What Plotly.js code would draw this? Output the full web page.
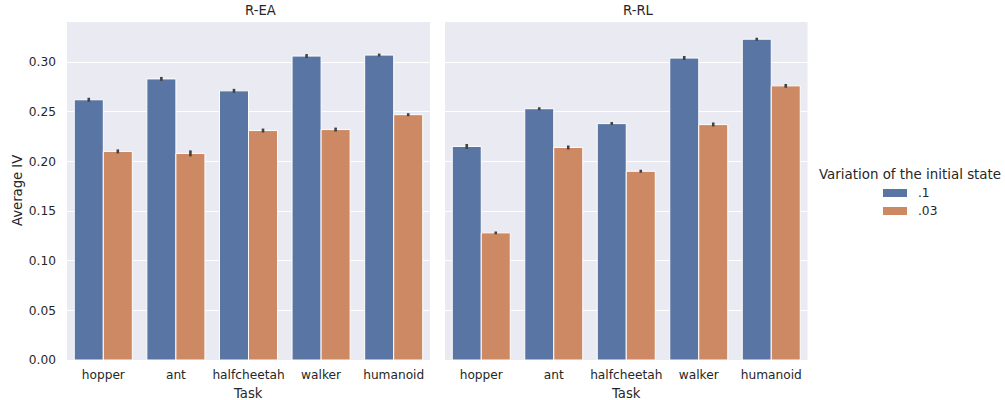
<!DOCTYPE html>
<html>
<head>
<meta charset="utf-8">
<script src="https://cdn.plot.ly/plotly-3.0.1.min.js"></script>
<style>html,body{margin:0;padding:0;background:#fff;} #chart{width:1005px;height:400px;}</style>
</head>
<body>
<div id="chart"></div>
<script>
const tasks = ["hopper", "ant", "halfcheetah", "walker", "humanoid"];
const panels = ["R-EA", "R-RL"];
const variations = [".1", ".03"];
// R-EA
const eaV1 = [0.262, 0.283, 0.271, 0.306, 0.307];
const eaV1Err = [0.002, 0.002, 0.002, 0.002, 0.0015];
const eaV03 = [0.210, 0.208, 0.231, 0.232, 0.247];
const eaV03Err = [0.002, 0.003, 0.002, 0.002, 0.0015];
// R-RL
const rlV1 = [0.215, 0.253, 0.238, 0.304, 0.323];
const rlV1Err = [0.0025, 0.0015, 0.0015, 0.002, 0.0015];
const rlV03 = [0.128, 0.214, 0.190, 0.237, 0.276];
const rlV03Err = [0.0015, 0.002, 0.0015, 0.002, 0.002];

const colors = ["#5975A4", "#CC8963"];
const errColor = "#424242";
const font = "DejaVu Sans, sans-serif";
const textColor = "#262626";
const tickSize = 12.2, labelSize = 13.2, legTitleSize = 13.4;

function bar(x, y, err, ci, xa, ya) {
  return {
    type: "bar", x: x, y: y, xaxis: xa, yaxis: ya,
    name: variations[ci], showlegend: false,
    marker: {color: colors[ci], line: {color: "#ffffff", width: 1}},
    error_y: {type: "data", array: err, visible: true, color: errColor, thickness: 2.6, width: 0},
    hoverinfo: "skip"
  };
}

const data = [
  bar(tasks, eaV1, eaV1Err, 0, "x", "y"),
  bar(tasks, eaV03, eaV03Err, 1, "x", "y"),
  bar(tasks, rlV1, rlV1Err, 0, "x2", "y2"),
  bar(tasks, rlV03, rlV03Err, 1, "x2", "y2")
];

const yRange = [0, 0.3403];
const yTicks = [0, 0.05, 0.10, 0.15, 0.20, 0.25, 0.30];
const W = 1005, H = 400;
const px = v => v / W, py = v => (H - v) / H;

const xBase = {
  type: "category", showgrid: false, zeroline: false, showline: false, ticks: "",
  tickfont: {family: font, size: tickSize, color: textColor}, ticklabelstandoff: 6,
  range: [-0.5, 4.5], fixedrange: true
};
const yBase = {
  range: yRange, tickvals: yTicks, tickformat: ".2f", showgrid: true, gridcolor: "#ffffff",
  gridwidth: 1, zeroline: false, showline: false, ticks: "",
  tickfont: {family: font, size: tickSize, color: textColor}, ticklabelstandoff: 10, fixedrange: true,
  domain: [py(360), py(22)]
};

const ann = (text, x, y, size, extra) => Object.assign({
  text: text, x: px(x), y: py(y), xref: "paper", yref: "paper", showarrow: false,
  xanchor: "center", yanchor: "middle", font: {family: font, size: size, color: textColor}
}, extra || {});

const annotations = [
  ann(panels[0], 260, 10, labelSize),
  ann(panels[1], 638, 10, labelSize),
  ann("Task", 248, 393, labelSize),
  ann("Task", 626, 393, labelSize),
  ann("Average IV", 17, 191, labelSize, {textangle: -90}),
  ann("Variation of the initial state", 910, 174, legTitleSize),
  ann(variations[0], 916, 193, tickSize, {xanchor: "left"}),
  ann(variations[1], 916, 211, tickSize, {xanchor: "left"})
];
const shapes = [
  {type: "rect", xref: "paper", yref: "paper", x0: px(883), x1: px(907), y0: py(189), y1: py(197), fillcolor: colors[0], line: {width: 0}},
  {type: "rect", xref: "paper", yref: "paper", x0: px(883), x1: px(907), y0: py(207), y1: py(215), fillcolor: colors[1], line: {width: 0}}
];

const layout = {
  width: W, height: H,
  margin: {l: 0, r: 0, t: 0, b: 0, pad: 0},
  paper_bgcolor: "#ffffff", plot_bgcolor: "#EAEAF2",
  barmode: "group", bargap: 0.2, bargroupgap: 0,
  showlegend: false,
  font: {family: font, color: textColor},
  xaxis: Object.assign({}, xBase, {domain: [px(67), px(430)], anchor: "y"}),
  xaxis2: Object.assign({}, xBase, {domain: [px(445), px(807.5)], anchor: "y2"}),
  yaxis: Object.assign({}, yBase, {anchor: "x"}),
  yaxis2: Object.assign({}, yBase, {anchor: "x2", showticklabels: false}),
  annotations: annotations,
  shapes: shapes
};

Plotly.newPlot("chart", data, layout, {displayModeBar: false, staticPlot: true});
</script>
</body>
</html>
